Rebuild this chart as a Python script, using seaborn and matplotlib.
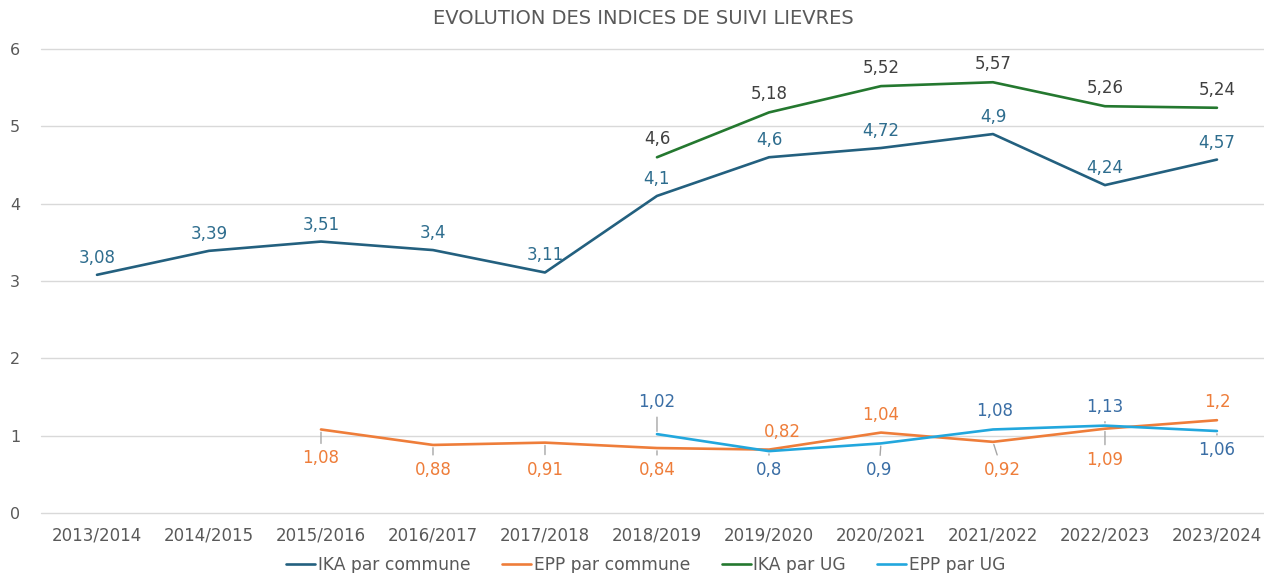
import numpy as np
import pandas as pd
import matplotlib
matplotlib.use("Agg")
import matplotlib.pyplot as plt
import seaborn as sns

seasons = ["2013/2014", "2014/2015", "2015/2016", "2016/2017", "2017/2018", "2018/2019",
           "2019/2020", "2020/2021", "2021/2022", "2022/2023", "2023/2024"]
nan = np.nan
ika_commune = [3.08, 3.39, 3.51, 3.4, 3.11, 4.1, 4.6, 4.72, 4.9, 4.24, 4.57]
epp_commune = [nan, nan, 1.08, 0.88, 0.91, 0.84, 0.82, 1.04, 0.92, 1.09, 1.2]
ika_ug = [nan, nan, nan, nan, nan, 4.6, 5.18, 5.52, 5.57, 5.26, 5.24]
epp_ug = [nan, nan, nan, nan, nan, 1.02, 0.8, 0.9, 1.08, 1.13, 1.06]
series_names = ["IKA par commune", "EPP par commune", "IKA par UG", "EPP par UG"]
title = "EVOLUTION DES INDICES DE SUIVI LIEVRES"

# styles
line_colors = ["#23607F", "#EE7D3A", "#24782F", "#22A7DD"]
label_colors = ["#2E6D8E", "#EE7D3A", "#404040", "#3A6EA5"]
# label offsets in pixels (dx, dy) per series per point
off_ika_c = [(0, 17)] * 11
off_ika_u = [(0, 18)] * 11
off_epp_c = [None, None, (0, -29), (0, -25), (0, -27), (0, -22), (13, 18), (0, 18), (9, -28), (0, -31), (0, 18)]
off_epp_u = [None] * 5 + [(0, 32), (0, -19), (-2, -27), (2, 18), (0, 19), (0, -19)]

sns.set_theme(style="white")
plt.rcParams["font.family"] = ["DejaVu Sans"]

data = pd.DataFrame({
    "x": list(range(len(seasons))) * 4,
    "value": ika_commune + epp_commune + ika_ug + epp_ug,
    "serie": sum([[n] * len(seasons) for n in series_names], []),
})

fig = plt.figure(figsize=(12.64, 5.73), dpi=100)
ax = fig.add_axes([41 / 1264, 1 - 513 / 573, 1 - 41 / 1264, (513 - 49) / 573])

sns.lineplot(data=data.dropna(), x="x", y="value", hue="serie", hue_order=series_names,
             palette=line_colors, linewidth=1.9, ax=ax, legend=True, estimator=None)

ax.set_xlim(-0.5, 10.42)
ax.set_ylim(0, 6)
ax.set_yticks(range(0, 7))
ax.set_xticks(range(len(seasons)))
ax.set_xticklabels(seasons)
ax.set_xlabel("")
ax.set_ylabel("")
ax.grid(axis="y", color="#D9D9D9", linewidth=1)
for gl in ax.get_ygridlines():
    gl.set_clip_on(False)
ax.set_axisbelow(True)
for s in ax.spines.values():
    s.set_visible(False)
ax.tick_params(axis="y", length=0, pad=15, labelsize=11.5, labelcolor="#595959")
ax.tick_params(axis="x", length=0, pad=10, labelsize=12, labelcolor="#595959")


def fmt(v):
    return f"{v:g}".replace(".", ",")


all_series = [ika_commune, epp_commune, ika_ug, epp_ug]
all_offsets = [off_ika_c, off_epp_c, off_ika_u, off_epp_u]
for k, (vals, offs) in enumerate(zip(all_series, all_offsets)):
    for i, v in enumerate(vals):
        if np.isnan(v):
            continue
        dx, dy = offs[i]
        arrow = None
        if abs(dy) >= 19 and k in (1, 3):
            arrow = dict(arrowstyle="-", color="#A6A6A6", lw=1, shrinkA=2, shrinkB=2)
        ax.annotate(fmt(v), (i, v), xytext=(dx, dy), textcoords="offset pixels",
                    ha="center", va="center", fontsize=12, color=label_colors[k],
                    arrowprops=arrow)

fig.text(0.509, 1 - 19 / 573, title, ha="center", va="center", fontsize=14, color="#595959")

handles, labels = ax.get_legend_handles_labels()
ax.get_legend().remove()
fig.legend(handles, labels, loc="center", bbox_to_anchor=(0.511, 1 - 565 / 573), ncol=4,
           frameon=False, fontsize=12.3, handlelength=1.7, handletextpad=0.15,
           columnspacing=1.85, labelcolor="#595959")

fig.savefig("out.png", dpi=100)
